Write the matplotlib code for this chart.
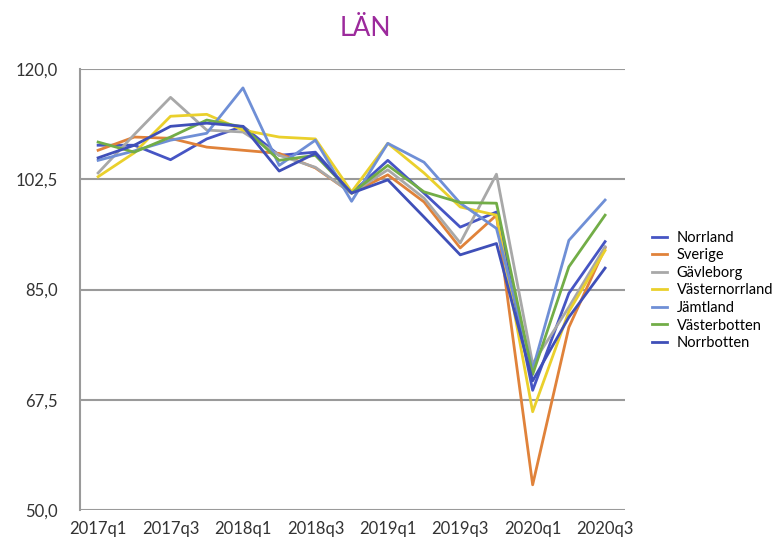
import matplotlib
matplotlib.use("Agg")
import matplotlib.pyplot as plt

plt.rcParams['font.family'] = ['Lato', 'DejaVu Sans']

# quarters 2017q1 .. 2020q3
quarters = ['2017q1', '2017q2', '2017q3', '2017q4',
            '2018q1', '2018q2', '2018q3', '2018q4',
            '2019q1', '2019q2', '2019q3', '2019q4',
            '2020q1', '2020q2', '2020q3']

norrland = [107.9, 107.9, 105.6, 108.9, 110.9, 106.3, 106.8, 100.3, 105.5, 100.3, 94.9, 97.3, 69.0, 84.4, 92.6]
sverige = [107.1, 109.2, 109.0, 107.6, 107.1, 106.6, 104.3, 100.3, 103.2, 98.9, 91.6, 96.8, 54.0, 79.0, 91.6]
gavleborg = [103.5, 109.6, 115.5, 110.3, 110.0, 106.3, 104.4, 100.3, 104.0, 99.5, 92.4, 103.3, 73.2, 82.2, 91.8]
vasternorrland = [102.9, 106.7, 112.5, 112.8, 110.3, 109.2, 108.9, 100.5, 108.2, 103.5, 98.1, 96.8, 65.6, 81.5, 91.2]
jamtland = [105.5, 107.0, 108.7, 109.8, 117.0, 104.7, 108.7, 99.0, 108.2, 105.2, 98.7, 94.7, 72.3, 92.8, 99.2]
vasterbotten = [108.4, 106.8, 109.2, 111.9, 110.8, 105.5, 106.3, 100.3, 104.7, 100.5, 98.8, 98.7, 71.5, 88.6, 96.8]
norrbotten = [105.9, 107.9, 110.9, 111.4, 110.9, 103.8, 106.6, 100.3, 102.4, 96.5, 90.5, 92.3, 70.5, 80.6, 88.4]

names = ['Norrland', 'Sverige', 'Gävleborg', 'Västernorrland',
         'Jämtland', 'Västerbotten', 'Norrbotten']
series = [norrland, sverige, gavleborg, vasternorrland,
          jamtland, vasterbotten, norrbotten]
colors = ['#4655c4', '#e0823a', '#a8a8a8', '#ead02c',
          '#6f8fd6', '#72ad47', '#3f4fb8']

fig = plt.figure(figsize=(7.74, 5.4), dpi=100)
ax = fig.add_axes([80/774, 30/540, 545/774, 441/540])

x = list(range(len(quarters)))
for vals, name, c in zip(series, names, colors):
    ax.plot(x, vals, color=c, lw=2.0, label=name)

ax.set_ylim(50, 120)
ax.set_xlim(-0.5, 14.55)
yt = [50, 67.5, 85, 102.5, 120]
ax.set_yticks(yt)
ax.set_yticklabels([f'{v:.1f}'.replace('.', ',') for v in yt])
ax.set_xticks(x[::2])
ax.set_xticklabels(quarters[::2])
ax.tick_params(length=0, labelsize=12, colors='#333333')
ax.tick_params(axis='y', pad=16)
ax.tick_params(axis='x', pad=8)

ax.yaxis.grid(True, color='#9a9a9a', lw=1.5)
ax.set_axisbelow(True)
for s in ['top', 'right', 'bottom']:
    ax.spines[s].set_visible(False)
ax.spines['left'].set_color('#9a9a9a')
ax.spines['left'].set_linewidth(1.5)

fig.text(365/774, 1 - 28/540, 'LÄN', color='#9c2a9c', fontsize=19,
         ha='center', va='center')

fig.legend(loc='upper left', bbox_to_anchor=(652/774, 1 - 231/540),
           frameon=False, fontsize=10.5, handlelength=1.0, handletextpad=0.7,
           labelspacing=0.24, borderaxespad=0, borderpad=0)

plt.savefig('out.png', dpi=100)
